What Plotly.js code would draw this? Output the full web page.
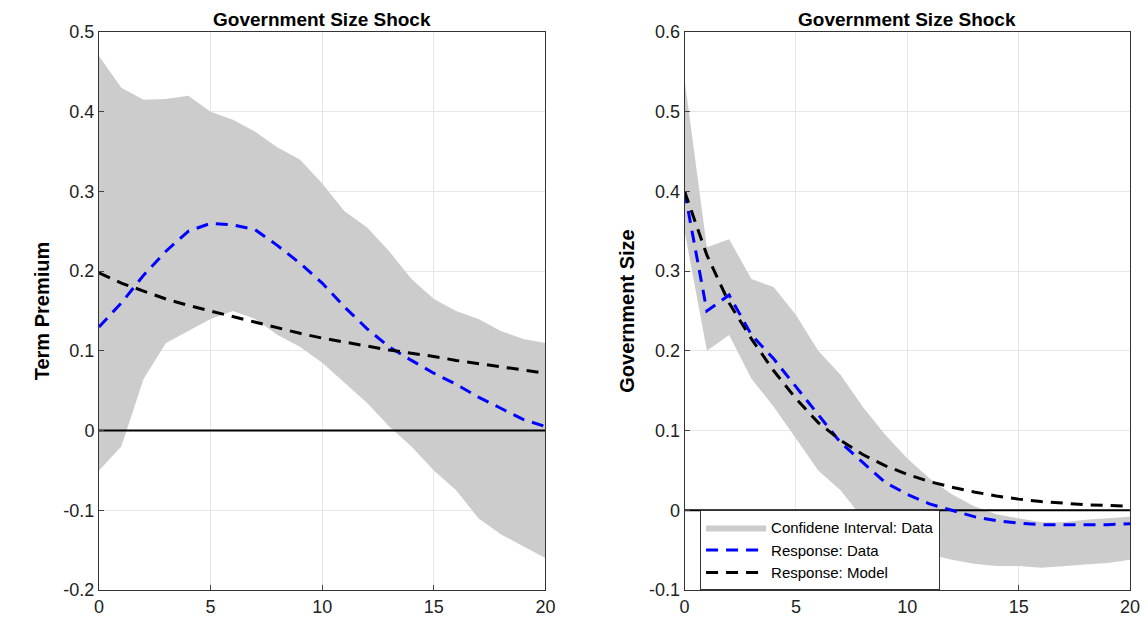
<!DOCTYPE html>
<html><head><meta charset="utf-8">
<script src="https://cdn.plot.ly/plotly-3.0.1.min.js"></script>
<style>body{margin:0;background:#fff}</style></head>
<body><div id="chart" style="width:1146px;height:617px"></div>
<script>
var periods = [0,1,2,3,4,5,6,7,8,9,10,11,12,13,14,15,16,17,18,19,20];

// left: term premium
var tpUpper = [0.47,0.43,0.415,0.416,0.42,0.40,0.39,0.375,0.355,0.34,0.31,0.275,0.255,0.225,0.19,0.165,0.15,0.14,0.125,0.115,0.11];
var tpLower = [-0.05,-0.02,0.065,0.11,0.125,0.14,0.15,0.14,0.12,0.105,0.085,0.06,0.035,0.005,-0.02,-0.05,-0.075,-0.11,-0.13,-0.145,-0.16];
var tpData  = [0.13,0.16,0.195,0.225,0.25,0.26,0.258,0.252,0.232,0.21,0.185,0.155,0.128,0.105,0.088,0.072,0.058,0.042,0.028,0.014,0.005];
var tpModel = [0.198,0.185,0.175,0.165,0.157,0.15,0.143,0.136,0.129,0.122,0.116,0.111,0.106,0.101,0.097,0.093,0.088,0.084,0.08,0.076,0.072];

// right: government size
var gsUpper = [0.54,0.33,0.34,0.29,0.28,0.245,0.20,0.17,0.13,0.095,0.065,0.04,0.02,0.005,-0.005,-0.01,-0.015,-0.015,-0.012,-0.01,-0.008];
var gsLower = [0.35,0.20,0.22,0.165,0.13,0.09,0.05,0.025,-0.01,-0.03,-0.045,-0.055,-0.062,-0.067,-0.07,-0.07,-0.072,-0.07,-0.068,-0.066,-0.062];
var gsData  = [0.40,0.25,0.27,0.22,0.19,0.155,0.12,0.085,0.06,0.035,0.02,0.008,0.0,-0.008,-0.013,-0.016,-0.018,-0.018,-0.018,-0.018,-0.017];
var gsModel = [0.40,0.32,0.26,0.215,0.175,0.14,0.11,0.088,0.07,0.056,0.045,0.036,0.029,0.023,0.018,0.014,0.011,0.009,0.007,0.006,0.005];

function band(up, lo, xa, ya, show){
  return {x: periods.concat(periods.slice().reverse()), y: up.concat(lo.slice().reverse()),
    fill:'toself', fillcolor:'#cccccc', line:{width:0}, mode:'lines', hoverinfo:'skip',
    name:'Confidene Interval: Data', showlegend:show, xaxis:xa, yaxis:ya};
}
function line(y, color, name, xa, ya, show){
  return {x: periods, y: y, mode:'lines', line:{color:color, width:3, dash:'12px,8px'},
    name:name, showlegend:show, xaxis:xa, yaxis:ya};
}
function zero(xa, ya){
  return {x:[0,20], y:[0,0], mode:'lines', line:{color:'#000', width:2}, showlegend:false, xaxis:xa, yaxis:ya, hoverinfo:'skip'};
}

var traces = [
  band(tpUpper, tpLower, 'x', 'y', false), zero('x','y'),
  line(tpData, '#0000ff', 'Response: Data', 'x', 'y', false),
  line(tpModel, '#000000', 'Response: Model', 'x', 'y', false),
  band(gsUpper, gsLower, 'x2', 'y2', true), zero('x2','y2'),
  line(gsData, '#0000ff', 'Response: Data', 'x2', 'y2', true),
  line(gsModel, '#000000', 'Response: Model', 'x2', 'y2', true)
];

var tickVals = [-0.2,-0.1,0,0.1,0.2,0.3,0.4,0.5,0.6];
var tickText = ['-0.2','-0.1','0','0.1','0.2','0.3','0.4','0.5','0.6'];

var ax = {range:[0,20], dtick:5, showgrid:true, gridcolor:'#e6e6e6', showline:true, mirror:true,
  linecolor:'#333', linewidth:1, ticks:'inside', ticklen:5, zeroline:false,
  tickfont:{family:'Liberation Sans, Arial', size:18, color:'#222'}};
function yax(r, title){
  return Object.assign({}, ax, {range:r, tickvals:tickVals, ticktext:tickText, title:{text:title, standoff:8,
    font:{family:'Liberation Sans Narrow, Liberation Sans, Arial', size:20, color:'#000', weight:'bold'}}});
}

var layout = {
  width:1146, height:617, margin:{l:99, r:16, t:32, b:27},
  paper_bgcolor:'#fff', plot_bgcolor:'#fff',
  xaxis: Object.assign({}, ax, {domain:[0,0.433]}),
  xaxis2: Object.assign({}, ax, {domain:[0.568,1], anchor:'y2'}),
  yaxis: yax([-0.2,0.5], 'Term Premium'),
  yaxis2: Object.assign(yax([-0.1,0.6], 'Government Size'), {anchor:'x2'}),
  showlegend:true,
  legend:{x:0.583, y:0.143, xanchor:'left', yanchor:'top', bgcolor:'#fff', bordercolor:'#333', borderwidth:1,
    font:{family:'Liberation Sans, Arial', size:15, color:'#000'}, tracegroupgap:0, itemwidth:60},
  annotations:[
    {text:'<b>Government Size Shock</b>', xref:'x domain', yref:'paper', x:0.5, y:1, yanchor:'bottom', showarrow:false,
      font:{family:'Liberation Sans, Arial', size:19, color:'#000'}},
    {text:'<b>Government Size Shock</b>', xref:'x2 domain', yref:'paper', x:0.5, y:1, yanchor:'bottom', showarrow:false,
      font:{family:'Liberation Sans, Arial', size:19, color:'#000'}}
  ]
};
Plotly.newPlot('chart', traces, layout, {displayModeBar:false});
</script></body></html>
